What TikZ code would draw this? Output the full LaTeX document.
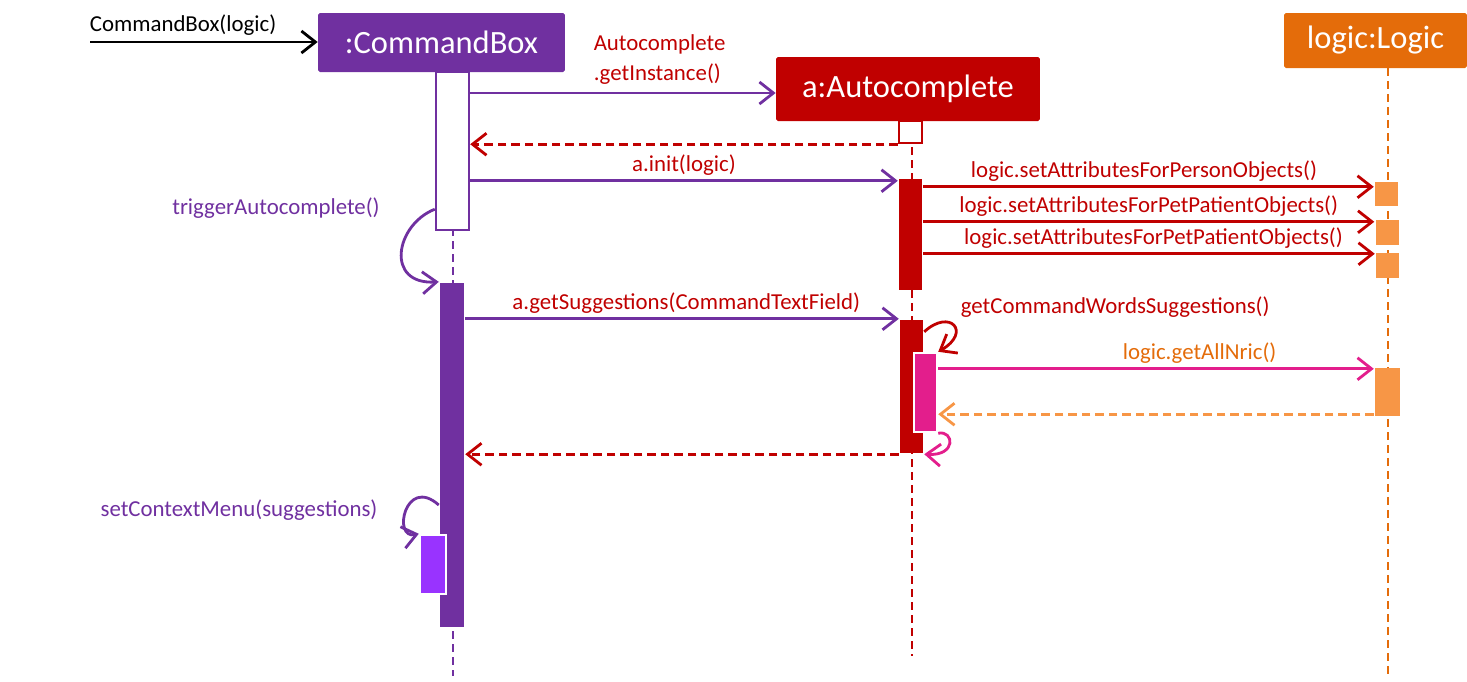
\documentclass[tikz,border=0pt]{standalone}
\usepackage{fontspec}
\setmainfont{Carlito}
\usetikzlibrary{arrows.meta,calc}
\definecolor{cbpurple}{HTML}{7030A0}
\definecolor{acred}{HTML}{C00000}
\definecolor{lgorange}{HTML}{E46C0A}
\definecolor{lglight}{HTML}{F79646}
\definecolor{wmagenta}{HTML}{E31E8C}
\definecolor{cviolet}{HTML}{9933FF}
\begin{document}
\begin{tikzpicture}[x=0.02cm,y=-0.02cm]
\tikzstyle{obj} = [rectangle, text=white, inner sep=0pt, rounded corners=1pt, font=\fontsize{18.5}{22}\selectfont]
\tikzstyle{act} = [rectangle, inner sep=0pt, minimum width=0.46cm, line width=1.4pt]
\tikzstyle{lbl} = [font=\fontsize{13}{17}\selectfont, inner sep=2pt]
\tikzstyle{msg} = [line width=1.6pt, -{Straight Barb[length=0.28cm,width=0.44cm]}]
\tikzstyle{ret} = [msg, dash pattern=on 0.17cm off 0.1cm]
\tikzstyle{life} = [line width=1.4pt, dash pattern=on 0.16cm off 0.1cm]
\useasboundingbox (0,0) rectangle (1467,681);
% objects
\node[obj, fill=cbpurple, minimum width=4.94cm, minimum height=1.18cm] (cb) at (441.5,42.5) {:CommandBox};
\node[obj, fill=acred, minimum width=5.28cm, minimum height=1.28cm] (ac) at (908,89) {a:Autocomplete};
\node[obj, fill=lgorange, minimum width=3.66cm, minimum height=1.1cm] (lg) at (1375.5,40.5) {logic:Logic};
% lifelines
\coordinate (cbEnd) at (453,676);
\coordinate (acEnd) at (912,656);
\coordinate (lgEnd) at (1388,676);
\draw[life, cbpurple] (cbEnd |- cb.south) -- (cbEnd);
\draw[life, acred] (acEnd |- ac.south) -- (acEnd);
\draw[life, lgorange] (lgEnd |- lg.south) -- (lgEnd);
% activations
\node[act, draw=cbpurple, fill=white, minimum width=0.66cm, minimum height=3.16cm] (cbA) at (452.5,151) {};
\node[act, draw=acred, fill=white, minimum height=0.44cm] (acS) at (910.5,132) {};
\node[act, fill=acred, minimum height=2.22cm] (acI) at (910.5,234.5) {};
\node[act, fill=lglight, minimum height=0.48cm] (lg1) at (1386.5,194) {};
\node[act, fill=lglight, minimum height=0.5cm] (lg2) at (1387,232.5) {};
\node[act, fill=lglight, minimum height=0.5cm] (lg3) at (1387.5,265.5) {};
\node[act, fill=cbpurple, minimum width=0.48cm, minimum height=6.88cm] (cbB) at (452,455) {};
\node[act, fill=acred, minimum height=2.66cm] (acG) at (911.5,386.5) {};
\node[act, draw=white, fill=wmagenta, minimum height=1.58cm] (acW) at (925.5,392.5) {};
\node[act, fill=lglight, minimum width=0.5cm, minimum height=0.96cm] (lg4) at (1387.5,392) {};
\node[act, draw=white, fill=cviolet, minimum width=0.52cm, minimum height=1.18cm] (cbC) at (433,564.5) {};
% messages
\coordinate (start) at (90,42);
\node[lbl, anchor=south west] (caller) at (86,39) {CommandBox(logic)};
\draw[msg] (start) -- (start -| cb.west);
\draw[msg, cbpurple] ($(cbA.east |- ac.west)+(0,4)$) -- ($(ac.west)+(0,4)$) node[pos=.62, above, lbl, acred, align=left, yshift=2pt] {Autocomplete\\.getInstance()};
\draw[ret, acred] (acS.south west) -- (cbA.east |- acS.south);
\draw[msg, cbpurple] ($(cbA.east |- acI.north)+(0,3)$) -- ($(acI.north west)+(0,3)$) node[pos=.5, above, lbl, acred] {a.init(logic)};
\draw[msg, acred] ($(acI.east |- lg1.north)+(0,6)$) -- ($(lg1.north west)+(0,6)$) node[pos=.49, above, lbl] {logic.setAttributesForPersonObjects()};
\draw[msg, acred] ($(acI.east |- lg2.north)+(0,3)$) -- ($(lg2.north west)+(0,3)$) node[pos=.5, above, lbl] {logic.setAttributesForPetPatientObjects()};
\draw[msg, acred] ($(acI.east |- lg3.north)+(0,2)$) -- ($(lg3.north west)+(0,2)$) node[pos=.51, above, lbl] {logic.setAttributesForPetPatientObjects()};
\draw[msg, cbpurple] ($(cbA.south west)+(0,-22)$) .. controls (395,225) and (385,285) .. (cbB.north west);
\node[lbl, cbpurple] (trig) at (276,208) {triggerAutocomplete()};
\draw[msg, cbpurple] (cbB.east |- acG.north) -- (acG.north west) node[pos=.51, above, lbl, acred] {a.getSuggestions(CommandTextField)};
\draw[msg, acred] ($(acG.north east)+(0,13)$) .. controls (950,308) and (972,332) .. (acW.north east);
\node[lbl, acred, anchor=west] (gcw) at (957,307) {getCommandWordsSuggestions()};
\draw[msg, wmagenta] ($(acW.east |- lg4.north)+(0,2)$) -- ($(lg4.north west)+(0,2)$) node[pos=.6, above, lbl, lgorange] {logic.getAllNric()};
\draw[ret, lglight] ($(lg4.south west)+(0,-3)$) -- ($(acW.east |- lg4.south)+(0,-3)$);
\draw[msg, wmagenta] (acW.south east) .. controls (954,430) and (957,456) .. (acG.south east);
\draw[ret, acred] (acG.south west) -- (cbB.east |- acG.south);
\draw[msg, cbpurple] ($(cbB.west)+(0,50)$) .. controls (405,475) and (392,540) .. (cbC.north west);
\node[lbl, cbpurple] (ctx) at (239,510) {setContextMenu(suggestions)};
\end{tikzpicture}
\end{document}
